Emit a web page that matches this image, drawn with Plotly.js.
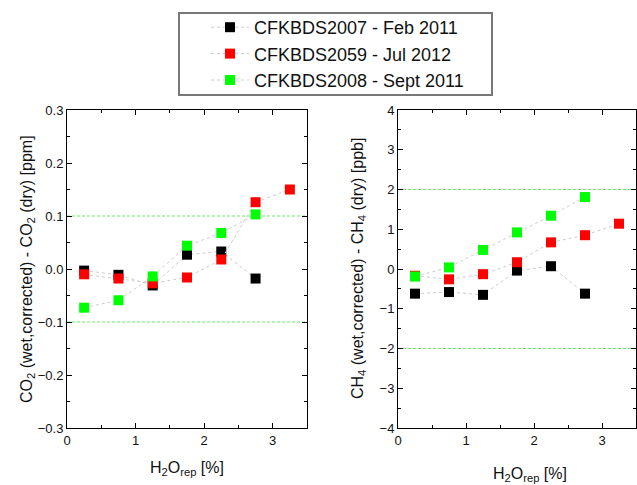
<!DOCTYPE html>
<html>
<head>
<meta charset="utf-8">
<script src="https://cdn.plot.ly/plotly-3.0.1.min.js"></script>
<style>html,body{margin:0;padding:0;background:#fff;}#chart{width:637px;height:485px;}</style>
</head>
<body>
<div id="chart"></div>
<script>
// H2O_rep levels [%]
const h2o = [0.25, 0.75, 1.25, 1.75, 2.25, 2.75, 3.25];

// Series names
const seriesNames = ["CFKBDS2007 - Feb 2011", "CFKBDS2059 - Jul 2012", "CFKBDS2008 - Sept 2011"];
const seriesColors = ["#000000", "#ff0000", "#00ff00"];

// CO2 (wet,corrected) - CO2 (dry) [ppm]
const co2_2007 = [-0.003, -0.011, -0.031, 0.027, 0.033, -0.018];
const co2_2059 = [-0.010, -0.018, -0.027, -0.016, 0.018, 0.126, 0.150];
const co2_2008 = [-0.073, -0.059, -0.014, 0.044, 0.068, 0.103];

// CH4 (wet,corrected) - CH4 (dry) [ppb]
const ch4_2007 = [-0.62, -0.58, -0.65, -0.04, 0.07, -0.62];
const ch4_2059 = [-0.17, -0.26, -0.13, 0.17, 0.67, 0.85, 1.14];
const ch4_2008 = [-0.19, 0.04, 0.48, 0.92, 1.34, 1.81];

// Tolerance limits
const co2Limits = [-0.1, 0.1];
const ch4Limits = [-2, 2];

const co2Series = [co2_2007, co2_2059, co2_2008];
const ch4Series = [ch4_2007, ch4_2059, ch4_2008];

const traces = [];
co2Series.forEach((vals, i) => {
  traces.push({
    x: h2o.slice(0, vals.length), y: vals, xaxis: 'x', yaxis: 'y',
    type: 'scatter', mode: 'lines+markers', name: seriesNames[i],
    line: {color: '#cccccc', width: 1, dash: 'dot'},
    marker: {symbol: 'square', size: 10, color: seriesColors[i]},
    showlegend: true
  });
});
ch4Series.forEach((vals, i) => {
  traces.push({
    x: h2o.slice(0, vals.length), y: vals, xaxis: 'x2', yaxis: 'y2',
    type: 'scatter', mode: 'lines+markers', name: seriesNames[i],
    line: {color: '#cccccc', width: 1, dash: 'dot'},
    marker: {symbol: 'square', size: 10, color: seriesColors[i]},
    showlegend: false
  });
});

const W = 637, H = 485;
const yTop = 1 - 110 / H, yBot = 1 - 428 / H;
const fontFam = 'Arial, "Liberation Sans", sans-serif';

function axisCommon() {
  return {
    showline: true, linecolor: '#000', linewidth: 1, mirror: 'ticks',
    ticks: 'inside', ticklen: 5, tickwidth: 1, tickcolor: '#000',
    showgrid: false, zeroline: false,
    tickfont: {family: fontFam, size: 13, color: '#111'},
    minor: {ticks: 'inside', ticklen: 3, tickcolor: '#000', showgrid: false}
  };
}

const xax = Object.assign(axisCommon(), {domain: [67 / W, 307 / W], range: [0, 3.5], dtick: 1, tick0: 0, anchor: 'y'});
xax.minor.dtick = 0.5;
const yax = Object.assign(axisCommon(), {domain: [yBot, yTop], range: [-0.3, 0.3], dtick: 0.1, tick0: 0, tickformat: '.1f', anchor: 'x'});
yax.minor.dtick = 0.05;
const xax2 = Object.assign(axisCommon(), {domain: [398 / W, 636 / W], range: [0, 3.5], dtick: 1, tick0: 0, anchor: 'y2'});
xax2.minor.dtick = 0.5;
const yax2 = Object.assign(axisCommon(), {domain: [yBot, yTop], range: [-4, 4], dtick: 1, tick0: 0, anchor: 'x2'});
yax2.minor.dtick = 0.5;

const limitLine = {color: '#66ee66', width: 1, dash: '3px,2px'};
const shapes = [];
co2Limits.forEach(v => shapes.push({type: 'line', xref: 'x', yref: 'y', x0: 0, x1: 3.5, y0: v, y1: v,
  line: limitLine, layer: 'below'}));
ch4Limits.forEach(v => shapes.push({type: 'line', xref: 'x2', yref: 'y2', x0: 0, x1: 3.5, y0: v, y1: v,
  line: limitLine, layer: 'below'}));
// legend frame
shapes.push({type: 'rect', xref: 'paper', yref: 'paper', x0: 179 / W, x1: 492 / W, y0: 1 - 95 / H, y1: 1 - 13 / H,
  line: {color: '#777', width: 2}, fillcolor: 'rgba(0,0,0,0)', layer: 'above'});

const titleFont = {family: fontFam, size: 16, color: '#111'};
const annotations = [
  {text: 'CO<sub>2</sub> (wet,corrected) - CO<sub>2</sub> (dry) [ppm]', xref: 'paper', yref: 'paper',
   x: 27 / W, y: (yTop + yBot) / 2, textangle: -90, showarrow: false, font: titleFont, xanchor: 'center', yanchor: 'middle'},
  {text: 'CH<sub>4</sub> (wet,corrected) - CH<sub>4</sub> (dry) [ppb]', xref: 'paper', yref: 'paper',
   x: 358 / W, y: (yTop + yBot) / 2, textangle: -90, showarrow: false, font: titleFont, xanchor: 'center', yanchor: 'middle'},
  {text: 'H<sub>2</sub>O<sub>rep</sub> [%]', xref: 'paper', yref: 'paper',
   x: 187 / W, y: 1 - 468 / H, showarrow: false, font: titleFont, xanchor: 'center', yanchor: 'middle'},
  {text: 'H<sub>2</sub>O<sub>rep</sub> [%]', xref: 'paper', yref: 'paper',
   x: 530 / W, y: 1 - 474 / H, showarrow: false, font: titleFont, xanchor: 'center', yanchor: 'middle'}
];

const layout = {
  width: W, height: H,
  margin: {l: 0, r: 0, t: 0, b: 0},
  paper_bgcolor: '#fff', plot_bgcolor: '#fff',
  font: {family: fontFam},
  xaxis: xax, yaxis: yax, xaxis2: xax2, yaxis2: yax2,
  shapes: shapes, annotations: annotations,
  showlegend: true,
  legend: {x: 206 / W, y: 1 - 54 / H, xanchor: 'left', yanchor: 'middle',
    borderwidth: 0, bgcolor: 'rgba(0,0,0,0)', itemwidth: 38,
    font: {family: fontFam, size: 18, color: '#111'}, tracegroupgap: 0}
};

Plotly.newPlot('chart', traces, layout, {staticPlot: true, displayModeBar: false});
</script>
</body>
</html>
